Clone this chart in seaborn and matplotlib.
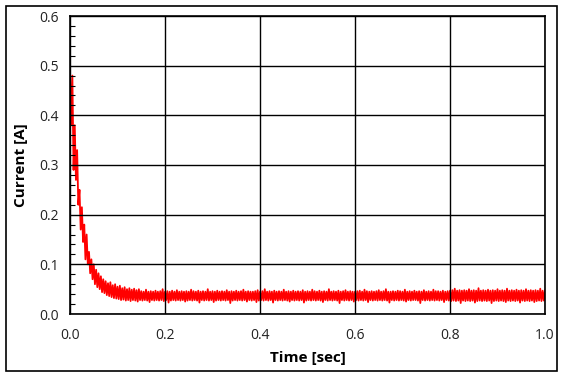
import numpy as np
import pandas as pd
import matplotlib
matplotlib.use("Agg")
import matplotlib.pyplot as plt
from matplotlib.patches import Rectangle
from matplotlib.ticker import MultipleLocator
import seaborn as sns

sample_step_s = 0.0025
current_a = [
    # decay 0 - 0.15 s
    0.490, 0.380, 0.480, 0.290, 0.380, 0.270, 0.330, 0.220, 0.250, 0.170,
    0.215, 0.145, 0.180, 0.110, 0.160, 0.100, 0.125, 0.082, 0.110, 0.070,
    0.100, 0.060, 0.089, 0.054, 0.082, 0.050, 0.076, 0.044, 0.070, 0.042,
    0.066, 0.038, 0.062, 0.036, 0.064, 0.034, 0.058, 0.032, 0.060, 0.031,
    0.055, 0.030, 0.057, 0.028, 0.052, 0.029, 0.054, 0.027, 0.050, 0.028,
    0.052, 0.026, 0.049, 0.028, 0.051, 0.027, 0.048, 0.025, 0.050, 0.028,
    # steady 0.15 - 0.8 s
    0.046, 0.027, 0.045, 0.028, 0.049, 0.027, 0.045, 0.024, 0.046, 0.028,
    0.045, 0.027, 0.047, 0.028, 0.045, 0.027, 0.046, 0.028, 0.050, 0.026,
    0.045, 0.028, 0.046, 0.023, 0.045, 0.027, 0.047, 0.028, 0.045, 0.027,
    0.048, 0.028, 0.045, 0.027, 0.046, 0.028, 0.045, 0.025, 0.046, 0.027,
    0.045, 0.028, 0.049, 0.027, 0.046, 0.028, 0.045, 0.027, 0.047, 0.023,
    0.045, 0.028, 0.046, 0.027, 0.045, 0.028, 0.050, 0.027, 0.045, 0.028,
    0.046, 0.024, 0.045, 0.027, 0.047, 0.028, 0.045, 0.027, 0.046, 0.028,
    0.045, 0.027, 0.048, 0.028, 0.045, 0.022, 0.046, 0.027, 0.045, 0.028,
    0.047, 0.027, 0.045, 0.028, 0.046, 0.027, 0.049, 0.028, 0.045, 0.025,
    0.046, 0.028, 0.045, 0.027, 0.045, 0.028, 0.046, 0.024, 0.048, 0.027,
    0.045, 0.028, 0.046, 0.027, 0.050, 0.028, 0.045, 0.027, 0.046, 0.028,
    0.045, 0.023, 0.047, 0.028, 0.045, 0.027, 0.046, 0.028, 0.045, 0.027,
    0.049, 0.028, 0.045, 0.027, 0.046, 0.025, 0.045, 0.028, 0.047, 0.027,
    0.045, 0.028, 0.046, 0.027, 0.045, 0.028, 0.048, 0.023, 0.045, 0.027,
    0.046, 0.028, 0.045, 0.027, 0.049, 0.028, 0.046, 0.027, 0.045, 0.028,
    0.047, 0.027, 0.045, 0.024, 0.046, 0.028, 0.045, 0.027, 0.050, 0.028,
    0.045, 0.027, 0.046, 0.028, 0.045, 0.027, 0.047, 0.022, 0.045, 0.028,
    0.046, 0.027, 0.048, 0.028, 0.045, 0.027, 0.046, 0.028, 0.045, 0.025,
    0.045, 0.028, 0.046, 0.027, 0.047, 0.028, 0.045, 0.027, 0.049, 0.028,
    0.046, 0.024, 0.045, 0.028, 0.046, 0.027, 0.045, 0.028, 0.046, 0.027,
    0.048, 0.028, 0.045, 0.027, 0.046, 0.028, 0.050, 0.027, 0.045, 0.023,
    0.045, 0.028, 0.046, 0.027, 0.045, 0.028, 0.047, 0.027, 0.046, 0.028,
    0.045, 0.027, 0.049, 0.025, 0.045, 0.028, 0.046, 0.027, 0.045, 0.028,
    0.047, 0.028, 0.045, 0.027, 0.046, 0.022, 0.045, 0.028, 0.048, 0.027,
    0.045, 0.028, 0.046, 0.027, 0.045, 0.028, 0.049, 0.027, 0.046, 0.028,
    0.046, 0.027, 0.045, 0.028, 0.047, 0.024, 0.045, 0.028, 0.046, 0.027,
    # 0.8 - 1.0 s
    0.047, 0.026, 0.048, 0.027, 0.051, 0.026, 0.047, 0.027, 0.048, 0.022,
    0.047, 0.027, 0.048, 0.026, 0.047, 0.027, 0.050, 0.026, 0.047, 0.027,
    0.048, 0.023, 0.047, 0.026, 0.052, 0.027, 0.047, 0.026, 0.048, 0.027,
    0.047, 0.026, 0.049, 0.027, 0.047, 0.022, 0.048, 0.026, 0.047, 0.027,
    0.050, 0.026, 0.047, 0.027, 0.048, 0.026, 0.047, 0.024, 0.051, 0.027,
    0.047, 0.026, 0.048, 0.027, 0.047, 0.026, 0.049, 0.027, 0.047, 0.023,
    0.048, 0.027, 0.047, 0.026, 0.050, 0.027, 0.047, 0.026, 0.048, 0.027,
    0.047, 0.024, 0.048, 0.026, 0.047, 0.027, 0.051, 0.026, 0.047, 0.027,
    0.048,
]
time_s = np.arange(len(current_a)) * sample_step_s

x_ticks = [0.0, 0.2, 0.4, 0.6, 0.8, 1.0]
y_ticks = [0.0, 0.1, 0.2, 0.3, 0.4, 0.5, 0.6]
x_label = "Time [sec]"
y_label = "Current [A]"

df = pd.DataFrame({"time": time_s, "current": current_a})

sns.set_theme(style="white")
plt.rcParams["font.family"] = ["Open Sans", "DejaVu Sans"]

fig = plt.figure(figsize=(5.64, 3.78), dpi=100)
ax = fig.add_axes([70 / 564, 1 - 314 / 378, 475 / 564, 298 / 378])

sns.lineplot(data=df, x="time", y="current", color="#ff0000", linewidth=1.3,
             estimator=None, sort=False, ax=ax)

ax.set_xlim(0, 1.0)
ax.set_ylim(0, 0.6)
ax.set_xticks(x_ticks)
ax.set_yticks(y_ticks)
ax.set_xticklabels([f"{v:.1f}" for v in x_ticks])
ax.set_yticklabels([f"{v:.1f}" for v in y_ticks])
ax.yaxis.set_minor_locator(MultipleLocator(0.02))
ax.tick_params(axis="both", which="major", length=0, pad=8, labelsize=10,
               labelcolor="#222222")
ax.tick_params(axis="x", which="major", pad=10)
ax.tick_params(axis="y", which="minor", direction="in", length=3.5,
               width=0.8, color="black", left=True)
ax.grid(True, which="major", color="black", linewidth=1.0)
ax.set_axisbelow(False)
for sp in ax.spines.values():
    sp.set_visible(True)
    sp.set_color("black")
    sp.set_linewidth(1.2)

ax.set_xlabel(x_label, fontsize=11, fontweight="bold", color="black", labelpad=6)
ax.set_ylabel(y_label, fontsize=11, fontweight="bold", color="black", labelpad=8)

border = Rectangle((5.5 / 564, 1 - 371 / 378), 551 / 564, 365.5 / 378,
                   transform=fig.transFigure, fill=False, edgecolor="black",
                   linewidth=1.2)
fig.patches.append(border)

fig.savefig("out.png", dpi=100, facecolor="white")
